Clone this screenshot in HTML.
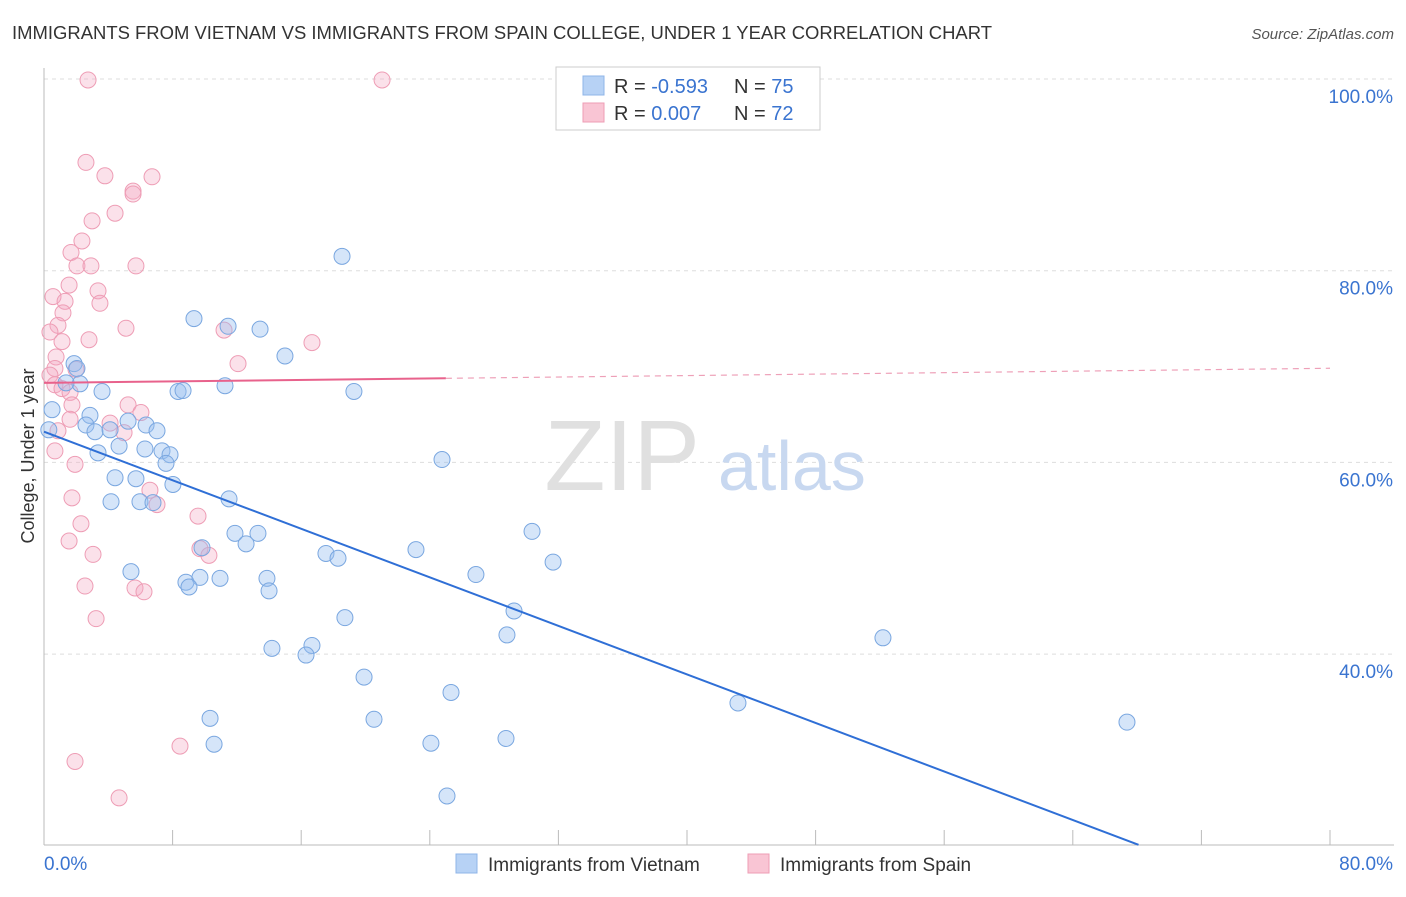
<!DOCTYPE html>
<html><head><meta charset="utf-8"><style>
body{margin:0;background:#fff;font-family:"Liberation Sans",sans-serif;}
svg text{font-family:"Liberation Sans",sans-serif;}
</style></head><body>
<svg width="1406" height="892" viewBox="0 0 1406 892">
<text x="12" y="39" font-size="18" fill="#333" textLength="980" lengthAdjust="spacingAndGlyphs">IMMIGRANTS FROM VIETNAM VS IMMIGRANTS FROM SPAIN COLLEGE, UNDER 1 YEAR CORRELATION CHART</text>
<text x="1394" y="39" font-size="15" fill="#555" text-anchor="end" font-style="italic">Source: ZipAtlas.com</text>
<g id="grid"></g>
<g id="axes"></g>
<text x="700" y="490" font-size="100" fill="#e0e0e0" text-anchor="end" font-family="Liberation Serif">ZIP</text>
<text x="718" y="490" font-size="70" fill="#c8d8f0">atlas</text>
<g id="pink"></g>
<g id="blue"></g>
<g id="lines"></g>
<text transform="translate(34,456) rotate(-90)" font-size="18" fill="#333" text-anchor="middle">College, Under 1 year</text>
<g>
<rect x="556" y="67" width="264" height="63" fill="#fff" stroke="#ccc"/>
<rect x="583" y="76" width="21" height="19" fill="#b7d2f5" stroke="#8fb5e8"/>
<rect x="583" y="103" width="21" height="19" fill="#f9c5d4" stroke="#ee9db5"/>
<text x="614" y="93" font-size="20" fill="#333">R = <tspan fill="#3a74d0">-0.593</tspan></text>
<text x="734" y="93" font-size="20" fill="#333">N = <tspan fill="#3a74d0">75</tspan></text>
<text x="614" y="120" font-size="20" fill="#333">R = <tspan fill="#3a74d0"> 0.007</tspan></text>
<text x="734" y="120" font-size="20" fill="#333">N = <tspan fill="#3a74d0">72</tspan></text>
</g>
<g>
<rect x="456" y="854" width="21" height="19" fill="#b7d2f5" stroke="#8fb5e8"/>
<text x="488" y="871" font-size="19" fill="#333">Immigrants from Vietnam</text>
<rect x="748" y="854" width="21" height="19" fill="#f9c5d4" stroke="#ee9db5"/>
<text x="780" y="871" font-size="19" fill="#333">Immigrants from Spain</text>
</g>
</svg>
<script>
const yTicks=[40,60,80,100];
const xTickCount=10;
const blueX=[18.54,9.33,11.45,13.44,14.99,1.87,2.05,2.24,1.37,3.61,8.34,8.65,11.26,19.28,0.5,0.3,2.86,2.61,3.17,4.11,5.23,6.35,7.03,4.67,3.36,6.28,7.34,7.84,7.59,24.76,4.42,5.72,8.02,4.17,5.97,6.78,11.51,11.88,13.31,12.57,9.83,30.36,23.14,17.54,18.29,31.67,5.41,26.87,8.83,9.7,10.95,13.87,9.02,14.0,29.24,18.72,28.8,52.19,14.18,16.67,16.3,19.91,25.32,43.17,10.33,20.53,67.37,10.58,24.07,28.74,25.07];
const blueY=[81.5,75.0,74.2,73.9,71.1,70.3,69.8,68.2,68.3,67.4,67.4,67.5,68.0,67.4,65.5,63.4,64.9,63.9,63.2,63.4,64.3,63.9,63.3,61.7,61.0,61.4,61.2,60.8,59.9,60.3,58.4,58.3,57.7,55.9,55.9,55.8,56.2,52.6,52.6,51.5,51.1,52.8,50.9,50.5,50.0,49.6,48.6,48.3,47.5,48.0,47.9,47.9,47.0,46.6,44.5,43.8,42.0,41.7,40.6,40.9,39.9,37.6,36.0,34.9,33.3,33.2,32.9,30.6,30.7,31.2,25.2];
const pinkX=[2.74,21.03,2.61,3.79,6.72,5.54,5.54,4.42,2.99,2.36,1.68,2.05,2.92,5.72,1.56,3.36,0.56,1.31,3.48,1.18,0.87,5.1,11.2,0.37,2.8,16.67,1.12,0.75,12.07,0.68,1.99,0.37,0.68,1.12,1.62,1.74,5.23,6.03,1.62,4.11,4.98,0.87,0.68,1.93,6.59,1.74,7.03,2.3,9.58,1.56,9.7,3.05,10.26,5.66,6.22,2.55,3.24,8.46,1.93,4.67];
const pinkY=[99.9,99.9,91.3,89.9,89.8,88.3,88.0,86.0,85.2,83.1,81.9,80.5,80.5,80.5,78.5,77.9,77.3,76.8,76.6,75.6,74.3,74.0,73.8,73.6,72.8,72.5,72.6,71.0,70.3,69.8,69.7,69.1,68.1,67.7,67.3,66.0,66.0,65.2,64.5,64.1,63.1,63.3,61.2,59.8,57.1,56.3,55.6,53.6,54.4,51.8,51.0,50.4,50.3,46.9,46.5,47.1,43.7,30.4,28.8,25.0];
const blueTrend=[63.2,-0.633];
const pinkTrend=[68.3,0.019];
const NS="http://www.w3.org/2000/svg";
const X=v=>44+v*16.075, Y=v=>79+(100-v)*9.585;
function mk(tag,attrs,parent){const e=document.createElementNS(NS,tag);for(const k in attrs)e.setAttribute(k,attrs[k]);parent.appendChild(e);return e;}
const grid=document.getElementById('grid'),axes=document.getElementById('axes');
yTicks.forEach(t=>{
 const l=mk('line',{x1:44,x2:1394,y1:Y(t),y2:Y(t),stroke:'#ddd','stroke-dasharray':'4,4'},grid);
 
 
 const tx=mk('text',{x:1393,y:Y(t)+24,'font-size':19,fill:'#3a74d0','text-anchor':'end'},axes);
 tx.textContent=t.toFixed(1)+'%';
 
 
});
mk('line',{x1:44,x2:44,y1:68,y2:845,stroke:'#bbb'},axes);
mk('line',{x1:44,x2:1394,y1:845,y2:845,stroke:'#bbb'},axes);
for(let i=0;i<=xTickCount;i++){const v=i*8;const t=mk('line',{x1:X(v),x2:X(v),y1:830,y2:845,stroke:'#bbb'},axes);
 
 }
let a=mk('text',{x:44,y:870,'font-size':19,fill:'#3a74d0'},axes);a.textContent='0.0%';


a=mk('text',{x:1393,y:870,'font-size':19,fill:'#3a74d0','text-anchor':'end'},axes);a.textContent='80.0%';


const pg=document.getElementById('pink'),bg=document.getElementById('blue');
pinkX.forEach((x,i)=>{const c=mk('circle',{cx:X(x),cy:Y(pinkY[i]),r:8,fill:'rgba(244,170,195,0.35)',stroke:'#ee9db5','stroke-width':1},pg);
 
 });
blueX.forEach((x,i)=>{const c=mk('circle',{cx:X(x),cy:Y(blueY[i]),r:8,fill:'rgba(150,190,240,0.4)',stroke:'#7aa7e0','stroke-width':1},bg);
 
 });
const lg=document.getElementById('lines');
const bx2=(20.1-blueTrend[0])/blueTrend[1];
let ln=mk('line',{x1:X(0),y1:Y(blueTrend[0]),x2:X(bx2),y2:Y(blueTrend[0]+blueTrend[1]*bx2),stroke:'#2f6fd6','stroke-width':2},lg);


ln=mk('line',{x1:X(0),y1:Y(pinkTrend[0]),x2:X(25),y2:Y(pinkTrend[0]+pinkTrend[1]*25),stroke:'#e8628c','stroke-width':2},lg);


ln=mk('line',{x1:X(25),y1:Y(pinkTrend[0]+pinkTrend[1]*25),x2:X(80),y2:Y(pinkTrend[0]+pinkTrend[1]*80),stroke:'#eea0b8','stroke-width':1.2,'stroke-dasharray':'6,5'},lg);


</script>
</body></html>
